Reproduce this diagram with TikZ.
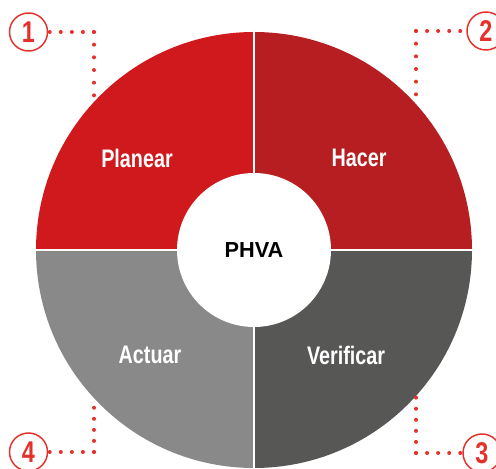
\documentclass[tikz,border=0pt]{standalone}
\usepackage{fontspec}
\setmainfont{Liberation Sans}
\newfontfamily\narrowfont[FakeStretch=0.78]{Liberation Sans}
\usetikzlibrary{positioning, calc}
\definecolor{planred}{RGB}{208,25,29}
\definecolor{hacred}{RGB}{183,30,33}
\definecolor{actgray}{RGB}{137,137,137}
\definecolor{vergray}{RGB}{87,87,85}
\definecolor{dotred}{RGB}{228,49,43}
\tikzset{
    stage/.style={text=white, inner sep=0pt, font=\narrowfont\bfseries\fontsize{19}{22}\selectfont},
    hub/.style={circle, fill=white, minimum size=115.5pt, inner sep=0pt, font=\bfseries\fontsize{16.3}{19}\selectfont},
    badge/.style={circle, draw=dotred, line width=1.1pt, fill=white, text=dotred, minimum size=28.5pt, inner sep=0pt, font=\narrowfont\bfseries\fontsize{22.5}{25}\selectfont},
    trail/.style={dotred, line width=3pt, line cap=round, dash pattern=on 0pt off 8.3pt},
    trail long/.style={trail, dash pattern=on 0pt off 9.5pt}
}

\begin{document}
\begin{tikzpicture}[x=0.75pt, y=0.75pt]
    \clip (0,0) rectangle (496,468);
    \coordinate (O) at (254,218);

    % --- Quadrants ---
    \fill[planred] (O) -- ++(180:163.5pt) arc[start angle=180, end angle=90, radius=163.5pt] -- cycle;
    \fill[hacred] (O) -- ++(90:163.5pt) arc[start angle=90, end angle=0, radius=163.5pt] -- cycle;
    \fill[vergray] (O) -- ++(0:163.5pt) arc[start angle=0, end angle=-90, radius=163.5pt] -- cycle;
    \fill[actgray] (O) -- ++(-90:163.5pt) arc[start angle=-90, end angle=-180, radius=163.5pt] -- cycle;
    \draw[white, line width=2pt] (254,0) -- (254,436);
    \draw[white, line width=2pt] (36,218) -- (472,218);

    % --- Centre and stages ---
    \node (phva) [hub] at (O) {PHVA};
    \node (plan) [stage] at (137,310) {Planear};
    \node (hacer) [stage] at (359,310) {Hacer};
    \node (actuar) [stage] at (150,113) {Actuar};
    \node (verif) [stage] at (346,113) {Verificar};

    % --- Numbered badges ---
    \node (n1) [badge] at (28.5,436) {1};
    \node (n2) [badge] at (486,437) {2};
    \node (n3) [badge] at (482,15) {3};
    \node (n4) [badge] at (28.5,16) {4};

    \coordinate (c1) at (94,436);  \coordinate (e1) at (94,371);
    \coordinate (c2) at (416,437); \coordinate (e2) at (416,373);
    \coordinate (c3) at (416,15);  \coordinate (e3) at (416,71);
    \coordinate (c4) at (94,16);   \coordinate (e4) at (94,62);

    % --- Dotted leaders ---
    \draw [trail] (c1) -- (n1);
    \draw [trail long] (c1) -- (e1);
    \draw [trail] (c2) -- (n2);
    \draw [trail long] (c2) -- (e2);
    \draw [trail] (c3) -- (n3);
    \draw [trail] (c3) -- (e3);
    \draw [trail] (c4) -- (n4);
    \draw [trail] (c4) -- (e4);
\end{tikzpicture}
\end{document}
